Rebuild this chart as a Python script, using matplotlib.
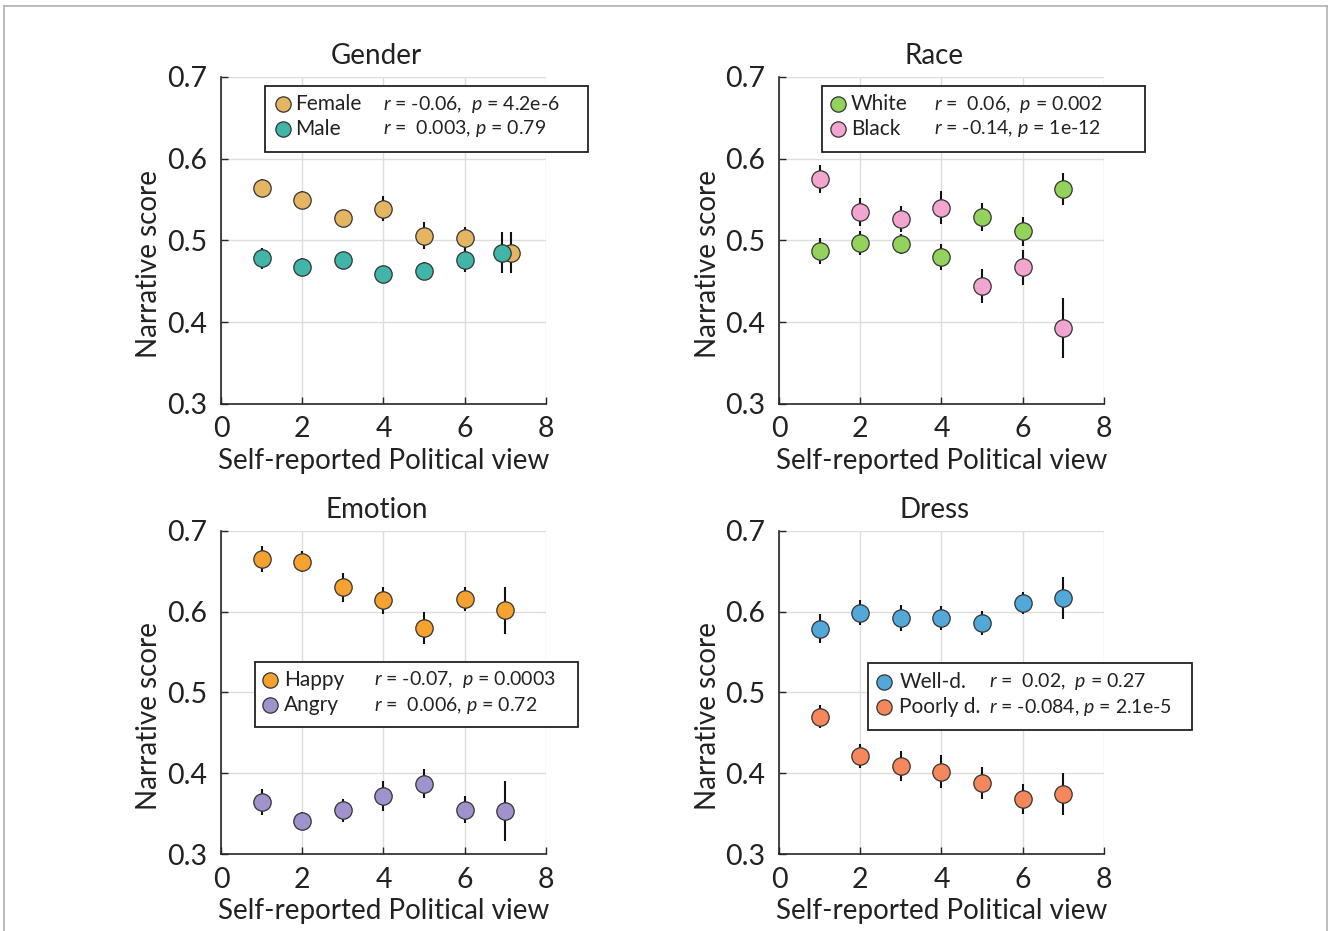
import matplotlib
matplotlib.use("Agg")
import matplotlib.pyplot as plt
from matplotlib.lines import Line2D
from matplotlib.patches import Rectangle

plt.rcParams["font.family"] = ["Lato", "DejaVu Sans"]
plt.rcParams["mathtext.fontset"] = "custom"
plt.rcParams["mathtext.it"] = "Lato:italic"
plt.rcParams["mathtext.rm"] = "Lato"

views = [1, 2, 3, 4, 5, 6, 7]

# Gender
female = [0.564, 0.549, 0.527, 0.539, 0.506, 0.503, 0.485]
female_err = [0.011, 0.011, 0.010, 0.015, 0.016, 0.014, 0.025]
male = [0.478, 0.467, 0.476, 0.459, 0.463, 0.476, 0.485]
male_err = [0.013, 0.011, 0.010, 0.010, 0.011, 0.015, 0.025]

# Race
white = [0.487, 0.497, 0.496, 0.480, 0.529, 0.511, 0.563]
white_err = [0.016, 0.015, 0.012, 0.016, 0.017, 0.018, 0.020]
black = [0.575, 0.535, 0.526, 0.540, 0.444, 0.467, 0.393]
black_err = [0.017, 0.017, 0.016, 0.020, 0.021, 0.021, 0.037]

# Emotion
happy = [0.665, 0.662, 0.630, 0.614, 0.580, 0.616, 0.602]
happy_err = [0.016, 0.013, 0.018, 0.017, 0.020, 0.015, 0.029]
angry = [0.364, 0.341, 0.354, 0.372, 0.387, 0.355, 0.353]
angry_err = [0.016, 0.011, 0.014, 0.019, 0.018, 0.017, 0.037]

# Dress
well = [0.579, 0.599, 0.592, 0.592, 0.586, 0.611, 0.617]
well_err = [0.018, 0.016, 0.016, 0.015, 0.015, 0.014, 0.026]
poorly = [0.470, 0.421, 0.409, 0.402, 0.388, 0.368, 0.374]
poorly_err = [0.014, 0.015, 0.019, 0.020, 0.020, 0.019, 0.026]

panels = [
    {
        "title": "Gender",
        "rect": [0.1664, 0.5661, 0.2447, 0.3512],
        "series": [
            ("Female", female, female_err, "#E5B561", "$r$ = -0.06,  $p$ = 4.2e-6", 0.14),
            ("Male", male, male_err, "#40B5A8", "$r$ =  0.003, $p$ = 0.79", -0.07),
        ],
        "box": (0.135, 0.771, 0.994, 0.201),
        "mark_x": 0.19, "rows": (0.917, 0.841), "lab_x": 0.228, "stat_x": 0.50,
    },
    {
        "title": "Race",
        "rect": [0.5866, 0.5661, 0.2447, 0.3512],
        "series": [
            ("White", white, white_err, "#93D35C", "$r$ =  0.06,  $p$ = 0.002", 0.0),
            ("Black", black, black_err, "#F2A5CE", "$r$ = -0.14, $p$ = 1e-12", 0.0),
        ],
        "box": (0.132, 0.771, 0.994, 0.201),
        "mark_x": 0.182, "rows": (0.917, 0.841), "lab_x": 0.222, "stat_x": 0.478,
    },
    {
        "title": "Emotion",
        "rect": [0.1664, 0.0827, 0.2447, 0.3470],
        "series": [
            ("Happy", happy, happy_err, "#F6A231", "$r$ = -0.07,  $p$ = 0.0003", 0.0),
            ("Angry", angry, angry_err, "#A093CD", "$r$ =  0.006, $p$ = 0.72", 0.0),
        ],
        "box": (0.105, 0.393, 0.993, 0.201),
        "mark_x": 0.151, "rows": (0.539, 0.461), "lab_x": 0.195, "stat_x": 0.472,
    },
    {
        "title": "Dress",
        "rect": [0.5866, 0.0827, 0.2447, 0.3470],
        "series": [
            ("Well-d.", well, well_err, "#53A8DA", "$r$ =  0.02,  $p$ = 0.27", 0.0),
            ("Poorly d.", poorly, poorly_err, "#F5875C", "$r$ = -0.084, $p$ = 2.1e-5", 0.0),
        ],
        "box": (0.274, 0.384, 0.997, 0.207),
        "mark_x": 0.323, "rows": (0.533, 0.455), "lab_x": 0.37, "stat_x": 0.647,
    },
]

fig = plt.figure(figsize=(13.28, 9.31), dpi=100)

for panel in panels:
    ax = fig.add_axes(panel["rect"])
    for name, vals, errs, color, stat, shift in panel["series"]:
        xs = [v + (shift if v == 7 else 0) for v in views]
        ax.errorbar(xs, vals, yerr=errs, fmt="none", ecolor="#111111",
                    elinewidth=1.5, capsize=0, zorder=3)
        ax.plot(xs, vals, "o", ms=12.5, mfc=color, mec="#333333", mew=0.9, zorder=4)

    ax.set_xlim(0, 8)
    ax.set_ylim(0.3, 0.7)
    ax.set_xticks([0, 2, 4, 6, 8])
    ax.set_yticks([0.3, 0.4, 0.5, 0.6, 0.7])
    ax.set_yticklabels(["0.3", "0.4", "0.5", "0.6", "0.7"])
    ax.grid(True, color="#dddddd", lw=1.0)
    ax.set_axisbelow(True)
    for side in ("top", "right"):
        ax.spines[side].set_visible(False)
    for side in ("left", "bottom"):
        ax.spines[side].set_color("#262626")
        ax.spines[side].set_linewidth(1.2)
    ax.tick_params(direction="in", length=5, width=1, labelsize=20.5,
                   colors="#262626", labelcolor="#222222")
    ax.tick_params(axis="x", pad=9)
    ax.tick_params(axis="y", pad=10)
    ax.set_xlabel("Self-reported Political view", fontsize=20, color="#222222", labelpad=4)
    ax.set_ylabel("Narrative score", fontsize=20, color="#222222")
    ax.yaxis.set_label_coords(-0.18, 0.428)
    ax.set_title(panel["title"], fontsize=20, color="#222222", pad=9, x=0.478)

    # hand-made legend box
    bx, by, bw, bh = panel["box"]
    ax.add_patch(Rectangle((bx, by), bw, bh, transform=ax.transAxes, fc="white",
                           ec="#222222", lw=1.3, clip_on=False, zorder=6))
    for (name, vals, errs, color, stat, shift), ry in zip(panel["series"], panel["rows"]):
        ax.add_line(Line2D([panel["mark_x"]], [ry], marker="o", ms=11, mfc=color,
                           mec="#333333", mew=0.9, transform=ax.transAxes,
                           clip_on=False, zorder=7))
        ax.text(panel["lab_x"], ry, name, transform=ax.transAxes, fontsize=15,
                va="center", ha="left", color="#222222", zorder=7)
        ax.text(panel["stat_x"], ry, stat, transform=ax.transAxes, fontsize=14,
                va="center", ha="left", color="#222222", zorder=7)

# thin frame around the figure
fig.add_artist(Line2D([0.003, 0.003], [0.0, 0.994], color="#b0b0b0", lw=1.2))
fig.add_artist(Line2D([0.003, 0.999], [0.994, 0.994], color="#b0b0b0", lw=1.2))
fig.add_artist(Line2D([0.999, 0.999], [0.0, 0.994], color="#b0b0b0", lw=1.2))

fig.savefig("out.png", dpi=100, facecolor="white")
